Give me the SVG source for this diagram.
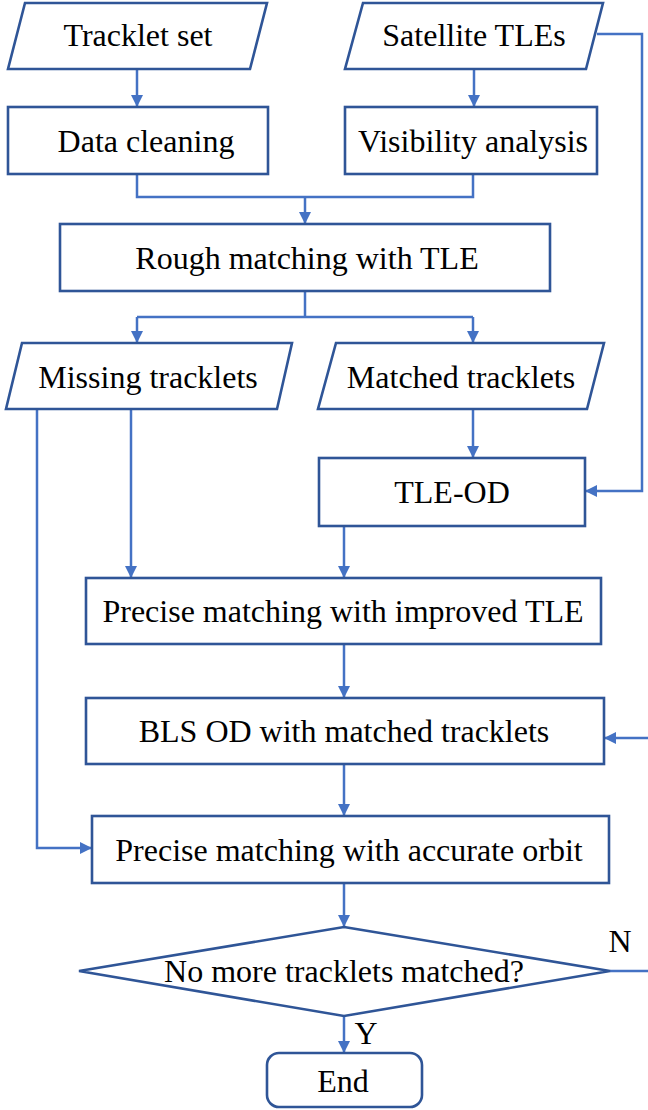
<svg xmlns="http://www.w3.org/2000/svg" width="648" height="1110" viewBox="0 0 648 1110">
  <style>
    .shape { fill: #ffffff; stroke: #2f5597; stroke-width: 2.6; }
    .label { font-family: 'Liberation Serif', 'Times New Roman', 'DejaVu Serif', serif; font-size: 32px; fill: #000000; text-anchor: middle; }
    .edge { fill: none; stroke: #4472c4; stroke-width: 2.5; }
  </style>
  <defs>
    <marker id="arrow" viewBox="0 0 10 10" refX="10" refY="5" markerWidth="12" markerHeight="14" markerUnits="userSpaceOnUse" orient="auto">
      <path d="M0,0 L10,5 L0,10 Z" fill="#4472c4"/>
    </marker>
  </defs>
  <rect width="648" height="1110" fill="#ffffff"/>

  <g id="connectors">
    <path class="edge" d="M137,69 V107" marker-end="url(#arrow)"/>
    <path class="edge" d="M474,69 V107" marker-end="url(#arrow)"/>
    <path class="edge" d="M137,174 V197 H473 V174"/>
    <path class="edge" d="M305,197 V224" marker-end="url(#arrow)"/>
    <path class="edge" d="M305,291 V317"/>
    <path class="edge" d="M137,317 H473"/>
    <path class="edge" d="M137,317 V343" marker-end="url(#arrow)"/>
    <path class="edge" d="M473,317 V343" marker-end="url(#arrow)"/>
    <path class="edge" d="M597,34 H642 V491 H585" marker-end="url(#arrow)"/>
    <path class="edge" d="M473,409 V458" marker-end="url(#arrow)"/>
    <path class="edge" d="M37,409 V848 H92" marker-end="url(#arrow)"/>
    <path class="edge" d="M131,409 V578" marker-end="url(#arrow)"/>
    <path class="edge" d="M344,526 V578" marker-end="url(#arrow)"/>
    <path class="edge" d="M344,644 V698" marker-end="url(#arrow)"/>
    <path class="edge" d="M344,764 V816" marker-end="url(#arrow)"/>
    <path class="edge" d="M344,883 V927" marker-end="url(#arrow)"/>
    <path class="edge" d="M610,971 H652 V738 H604" marker-end="url(#arrow)"/>
    <path class="edge" d="M344,1016 V1053" marker-end="url(#arrow)"/>
  </g>

  <g id="tracklet-set">
    <polygon class="shape" points="25,3 267,3 250,69 8,69"/>
    <text class="label" x="138" y="46">Tracklet set</text>
  </g>
  <g id="satellite-tles">
    <polygon class="shape" points="363,3 603,3 586,69 345,69"/>
    <text class="label" x="474" y="46">Satellite TLEs</text>
  </g>
  <g id="data-cleaning">
    <rect class="shape" x="8" y="107" width="260" height="67"/>
    <text class="label" x="146" y="152">Data cleaning</text>
  </g>
  <g id="visibility-analysis">
    <rect class="shape" x="345" y="107" width="252" height="67"/>
    <text class="label" x="473" y="152">Visibility analysis</text>
  </g>
  <g id="rough-matching">
    <rect class="shape" x="60" y="224" width="490" height="67"/>
    <text class="label" x="307" y="269">Rough matching with TLE</text>
  </g>
  <g id="missing-tracklets">
    <polygon class="shape" points="22,343 292,343 277,409 6,409"/>
    <text class="label" x="148" y="388">Missing tracklets</text>
  </g>
  <g id="matched-tracklets">
    <polygon class="shape" points="336,343 604,343 587,409 318,409"/>
    <text class="label" x="461" y="388">Matched tracklets</text>
  </g>
  <g id="tle-od">
    <rect class="shape" x="319" y="458" width="266" height="68"/>
    <text class="label" x="452" y="503">TLE-OD</text>
  </g>
  <g id="precise-improved">
    <rect class="shape" x="86" y="578" width="515" height="66"/>
    <text class="label" x="343" y="622">Precise matching with improved TLE</text>
  </g>
  <g id="bls-od">
    <rect class="shape" x="86" y="698" width="518" height="66"/>
    <text class="label" x="344" y="742">BLS OD with matched tracklets</text>
  </g>
  <g id="precise-accurate">
    <rect class="shape" x="92" y="816" width="517" height="67"/>
    <text class="label" x="349" y="861">Precise matching with accurate orbit</text>
  </g>
  <g id="decision">
    <polygon class="shape" points="344,927 610,971 344,1016 79,971"/>
    <text class="label" x="344" y="982">No more tracklets matched?</text>
    <text class="label" x="620" y="952">N</text>
    <text class="label" x="366" y="1044">Y</text>
  </g>
  <g id="end">
    <rect class="shape" x="267" y="1053" width="155" height="54" rx="12"/>
    <text class="label" x="343" y="1092">End</text>
  </g>
</svg>
